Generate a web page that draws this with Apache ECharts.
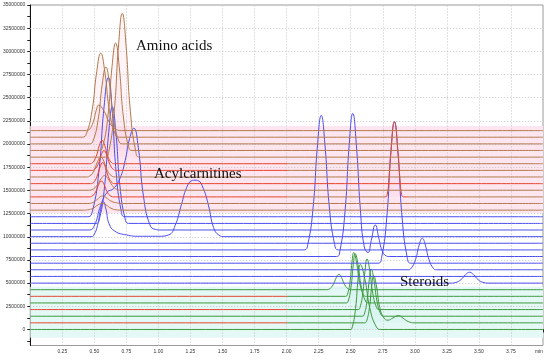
<!DOCTYPE html>
<html><head><meta charset="utf-8">
<script src="https://cdn.jsdelivr.net/npm/echarts@6/dist/echarts.min.js"></script>
<style>html,body{margin:0;padding:0;background:#fff}#c{width:550px;height:360px}</style>
</head><body><div id="c"></div>
<script>
// ---- Data: retention time (min), intensity (millions of counts) ----
// Steroids (green traces, bottom group)
const steroid0 = [[0,0],[2.495,0],[2.5125,0.28],[2.5375,2.24],[2.5575,5.46],[2.575,7.0],[2.61,5.46],[2.65,2.24],[2.70,0.28],[2.735,0],[4.0,0]];
const steroid1 = [[0,0.715],[2.609,0.715],[2.624,0.92],[2.646,2.34],[2.664,4.68],[2.679,5.8],[2.701,4.68],[2.727,2.34],[2.759,1.25],[2.79,1.0],[2.83,1.25],[2.872,1.5],[2.91,1.2],[2.95,0.85],[3.0,0.715],[4.0,0.715]];
const steroid2 = [[0,1.43],[2.59,1.43],[2.605,1.63],[2.627,3.05],[2.645,5.38],[2.66,6.5],[2.681,5.38],[2.705,3.05],[2.735,1.63],[2.756,1.43],[4.0,1.43]];
const steroid3 = [[0,2.145],[2.557,2.145],[2.572,2.36],[2.594,3.89],[2.612,6.4],[2.627,7.6],[2.648,6.4],[2.672,3.89],[2.702,2.36],[2.723,2.145],[4.0,2.145]];
const steroid4 = [[0,2.86],[2.465,2.86],[2.48,3.07],[2.502,4.55],[2.52,6.99],[2.535,8.15],[2.557,6.99],[2.583,4.55],[2.615,3.07],[2.637,2.86],[4.0,2.86]];
const steroid5 = [[0,3.575],[2.46,3.575],[2.474,3.76],[2.494,5.09],[2.51,7.26],[2.524,8.3],[2.545,7.26],[2.569,5.09],[2.599,3.76],[2.62,3.575],[4.0,3.575]];
const steroid6 = [[0,4.29],[2.312,4.29],[2.333,4.36],[2.363,4.82],[2.387,5.58],[2.408,5.95],[2.429,5.58],[2.453,4.82],[2.483,4.36],[2.504,4.29],[4.0,4.29]];
// Acylcarnitines (blue traces, middle group)
const acyl7  = [[0,5.0],[3.283,5.0],[3.3145,5.05],[3.3595,5.37],[3.3955,5.91],[3.427,6.17],[3.4585,5.91],[3.4945,5.37],[3.5395,5.05],[3.571,5.0],[4.0,5.0]];
const acyl8  = [[0,5.72],[4.0,5.72]];
const acyl9  = [[0,6.44],[2.946,6.44],[2.9705,6.58],[3.0055,7.53],[3.0335,9.09],[3.058,9.84],[3.0825,9.09],[3.1105,7.53],[3.1455,6.58],[3.17,6.44],[4.0,6.44]];
const acyl10 = [[0,7.15],[2.713,7.15],[2.741,7.76],[2.781,12.03],[2.813,19.05],[2.841,22.41],[2.869,19.05],[2.901,12.03],[2.941,7.76],[2.969,7.15],[4.0,7.15]];
const acyl11 = [[0,7.87],[2.388,7.87],[2.416,8.49],[2.456,12.81],[2.488,19.9],[2.516,23.3],[2.544,19.9],[2.576,12.81],[2.606,8.9],[2.635,8.3],[2.66,9.6],[2.692,11.27],[2.72,9.8],[2.745,8.5],[2.775,7.95],[2.8,7.87],[4.0,7.87]];
const acyl12 = [[0,8.58],[2.136,8.58],[2.165,9.16],[2.207,13.23],[2.241,19.91],[2.27,23.1],[2.299,19.91],[2.333,13.23],[2.375,9.16],[2.404,8.58],[4.0,8.58]];
const acyl13 = [[0,9.3],[4.0,9.3]];
const acyl14 = [[0,10.01],[0.474,10.01],[0.495,10.16],[0.525,11.22],[0.549,12.95],[0.57,13.78],[0.591,12.95],[0.615,11.4],[0.66,10.6],[0.75,10.2],[0.85,10.05],[1.0,10.05],[1.08,10.2],[1.13,11.2],[1.18,13.5],[1.22,15.3],[1.26,16.05],[1.285,16.1],[1.31,16.05],[1.35,15.2],[1.39,13.4],[1.43,11.0],[1.47,10.2],[1.52,10.01],[4.0,10.01]];
const acyl15 = [[0,10.73],[0.46,10.73],[0.5,11.2],[0.55,13.4],[0.6,14.8],[0.65,15.2],[0.7,16.3],[0.74,18.2],[0.775,20.6],[0.808,21.7],[0.843,19.6],[0.883,14.4],[0.933,11.3],[0.975,10.8],[1.02,10.73],[4.0,10.73]];
const acyl16 = [[0,11.44],[0.512,11.44],[0.54,11.94],[0.58,15.46],[0.612,21.24],[0.64,24.0],[0.668,21.24],[0.70,15.46],[0.74,11.94],[0.768,11.44],[4.0,11.44]];
const acyl17 = [[0,12.16],[0.45,12.16],[0.485,12.76],[0.535,16.97],[0.575,23.89],[0.61,27.2],[0.638,23.89],[0.67,16.97],[0.71,12.76],[0.738,12.16],[4.0,12.16]];
// Amino acids (brown / red traces, top group)
const amino18 = [[0,12.87],[0.416,12.87],[0.4475,12.9],[0.4925,13.1],[0.5285,13.44],[0.56,13.6],[0.5915,13.44],[0.6275,13.1],[0.6725,12.9],[0.704,12.87],[4.0,12.87]];
const amino19 = [[0,13.59],[0.45,13.59],[0.48,13.65],[0.52,14.0],[0.545,14.3],[0.565,14.4],[0.59,14.25],[0.63,13.85],[0.68,13.65],[0.72,13.59],[4.0,13.59]];
const amino20 = [[0,14.3],[0.459,14.3],[0.48,14.37],[0.51,14.84],[0.534,15.63],[0.555,16.0],[0.576,15.63],[0.6,14.84],[0.63,14.37],[0.651,14.3],[2.77,14.3],[2.785,14.6],[2.80,16.6],[2.813,19.05],[2.841,22.41],[2.869,19.05],[2.882,16.6],[2.897,14.6],[2.912,14.3],[4.0,14.3]];
const amino21 = [[0,15.02],[0.452,15.02],[0.48,15.08],[0.52,15.53],[0.552,16.25],[0.58,16.6],[0.608,16.25],[0.64,15.53],[0.68,15.08],[0.708,15.02],[4.0,15.02]];
const amino22 = [[0,15.73],[0.469,15.73],[0.49,15.82],[0.52,16.46],[0.544,17.5],[0.565,18.0],[0.586,17.5],[0.61,16.46],[0.64,15.82],[0.661,15.73],[4.0,15.73]];
const amino23 = [[0,16.45],[0.438,16.45],[0.4625,16.54],[0.4975,17.14],[0.5255,18.13],[0.55,18.6],[0.5745,18.13],[0.6025,17.14],[0.6375,16.54],[0.662,16.45],[4.0,16.45]];
const amino24 = [[0,17.16],[0.479,17.16],[0.5,17.25],[0.53,17.84],[0.554,18.83],[0.575,19.3],[0.596,18.83],[0.62,17.84],[0.65,17.25],[0.671,17.16],[4.0,17.16]];
const amino25 = [[0,17.88],[0.464,17.88],[0.485,17.98],[0.515,18.69],[0.539,19.85],[0.56,20.4],[0.581,19.85],[0.605,18.69],[0.635,17.98],[0.656,17.88],[4.0,17.88]];
const amino26 = [[0,18.59],[0.584,18.59],[0.613,19.21],[0.655,23.55],[0.689,30.69],[0.718,34.1],[0.747,30.69],[0.781,23.55],[0.823,19.21],[0.852,18.59],[4.0,18.59]];
const amino27 = [[0,19.31],[0.538,19.31],[0.566,19.77],[0.606,23.02],[0.638,28.35],[0.666,30.9],[0.694,28.35],[0.726,23.02],[0.766,19.77],[0.794,19.31],[4.0,19.31]];
const amino28 = [[0,20.02],[0.462,20.02],[0.49,20.35],[0.53,22.67],[0.562,26.48],[0.59,28.3],[0.618,26.48],[0.65,22.67],[0.69,20.35],[0.718,20.02],[4.0,20.02]];
const amino29 = [[0,20.74],[0.406,20.74],[0.4375,21.1],[0.4825,23.64],[0.5185,27.81],[0.55,29.8],[0.5815,27.81],[0.6175,23.64],[0.6625,21.1],[0.694,20.74],[4.0,20.74]];
const amino30 = [[0,21.45],[0.439,21.45],[0.46,21.56],[0.49,22.33],[0.514,23.6],[0.535,24.2],[0.574,23.6],[0.618,22.33],[0.673,21.56],[0.711,21.45],[4.0,21.45]];

// Axis ticks (millions) and time ticks
const yLabelValues = [0,2.5,5,7.5,10,12.5,15,17.5,20,22.5,25,27.5,30,32.5,35];
const yTickValues = [-1.25,0,1.25,2.5,3.75,5,6.25,7.5,8.75,10,11.25,12.5,13.75,15,16.25,17.5,18.75,20,21.25,22.5,23.75,25,26.25,27.5,28.75,30,31.25,32.5,33.75,35];
const xGridValues = [0.25,0.5,0.75,1,1.25,1.5,1.75,2,2.25,2.5,2.75,3,3.25,3.5,3.75];
// Group annotations
const groupLabels = ['Amino acids','Acylcarnitines','Steroids'];

// ---- Styling ----
const BROWN = '#b27a4c', RED = '#e5452b', BLUE = '#4b4cf0', GREEN = '#3d983d';
const PINK_FILL = 'rgba(250,200,220,0.28)', CYAN_FILL = 'rgba(205,242,238,0.3)';
// colour switch along the time axis (trace spans 0..4 min, so offset = t / 4)
const split = (a, b) => ({ type: 'linear', x: 0, y: 0, x2: 1, y2: 0, global: false,
  colorStops: [{ offset: 0, color: a }, { offset: 0.5, color: a }, { offset: 0.5, color: b }, { offset: 1, color: b }] });
const RED_GREEN = split(RED, GREEN);
const RED_BROWN = split(RED, BROWN);
const RED_BROWN_PEAK = { type: 'linear', x: 0, y: 0, x2: 1, y2: 0, global: false,
  colorStops: [{ offset: 0, color: RED }, { offset: 0.5, color: RED }, { offset: 0.5, color: BROWN },
    { offset: 0.688, color: BROWN }, { offset: 0.688, color: RED }, { offset: 0.732, color: RED },
    { offset: 0.732, color: BROWN }, { offset: 1, color: BROWN }] };

const traces = [
  [steroid0, GREEN, CYAN_FILL], [steroid1, RED_GREEN, CYAN_FILL], [steroid2, GREEN, CYAN_FILL],
  [steroid3, RED_GREEN, CYAN_FILL], [steroid4, GREEN, CYAN_FILL], [steroid5, RED_GREEN, CYAN_FILL],
  [steroid6, GREEN, CYAN_FILL],
  [acyl7, BLUE], [acyl8, BLUE], [acyl9, BLUE], [acyl10, BLUE], [acyl11, BLUE], [acyl12, BLUE],
  [acyl13, BLUE], [acyl14, BLUE], [acyl15, BLUE], [acyl16, BLUE], [acyl17, BLUE],
  [amino18, BROWN, PINK_FILL], [amino19, BROWN, PINK_FILL], [amino20, RED_BROWN_PEAK, PINK_FILL],
  [amino21, BROWN, PINK_FILL], [amino22, RED, PINK_FILL], [amino23, BROWN, PINK_FILL],
  [amino24, RED_BROWN, PINK_FILL], [amino25, RED_BROWN, PINK_FILL], [amino26, BROWN, PINK_FILL],
  [amino27, BROWN, PINK_FILL], [amino28, BROWN, PINK_FILL], [amino29, BROWN, PINK_FILL],
  [amino30, BROWN, PINK_FILL]
];

const series = traces.map(([data, color, fill]) => {
  const s = {
    type: 'line', data, showSymbol: false, symbol: 'none', smooth: 0.5,
    silent: true, animation: false, z: 2,
    lineStyle: { width: 1, color }, itemStyle: { color: typeof color === 'string' ? color : BROWN }
  };
  if (fill) s.areaStyle = { origin: data[0][1], color: fill };
  return s;
});

// background bands and dotted grid lines (on an extra invisible series)
series.unshift({
  type: 'line', data: [[0, -1], [4, -1]], silent: true, animation: false, showSymbol: false, symbol: 'none',
  lineStyle: { width: 0, opacity: 0 }, z: 1,
  markArea: {
    silent: true, z: 0.5, itemStyle: { opacity: 1 },
    data: [
      [{ yAxis: 21.95, itemStyle: { color: '#fde6ef' } }, { yAxis: 12.55 }],
      [{ yAxis: 4.6, itemStyle: { color: '#e4f8f5' } }, { yAxis: -0.9 }]
    ]
  },
  markLine: {
    silent: true, z: 0.8, symbol: ['none', 'none'], label: { show: false },
    lineStyle: { color: '#c4c4c4', type: [1, 2], width: 1 },
    data: yLabelValues.slice(0, -1).map(v => ({ yAxis: v })).concat(xGridValues.map(v => ({ xAxis: v })))
  }
});

const option = {
  animation: false,
  backgroundColor: '#fff',
  grid: { left: 30, right: 7, top: 5, bottom: 14.5, show: true, borderColor: '#9a9a9a', borderWidth: 1, backgroundColor: 'transparent' },
  xAxis: {
    type: 'value', min: 0, max: 4.0, interval: 0.25,
    axisLine: { show: true, lineStyle: { color: '#111', width: 1 } },
    axisTick: { show: true, length: 3, lineStyle: { color: '#222' } },
    minorTick: { show: true, splitNumber: 5, length: 2, lineStyle: { color: '#444' } },
    axisLabel: { fontSize: 5, color: '#333', margin: 3.5, fontFamily: 'Liberation Sans',
      showMaxLabel: true, alignMaxLabel: 'right',
      formatter: v => v === 0 ? '' : (v === 4 ? 'min' : v.toFixed(2)) },
    splitLine: { show: false }
  },
  yAxis: {
    type: 'value', min: -1.73, max: 35,
    axisLine: { show: true, lineStyle: { color: '#111', width: 1 } },
    axisTick: { show: true, length: 3, customValues: yTickValues, lineStyle: { color: '#222' } },
    axisLabel: { fontSize: 5, color: '#333', margin: 5, customValues: yLabelValues, fontFamily: 'Liberation Sans',
      formatter: v => String(Math.round(v * 1e6)) },
    splitLine: { show: false }
  },
  graphic: [
    { type: 'text', x: 136, y: 46, z: 100, style: { text: groupLabels[0], font: '15px "Liberation Serif"', fill: '#111', verticalAlign: 'middle' } },
    { type: 'text', x: 154, y: 174, z: 100, style: { text: groupLabels[1], font: '15px "Liberation Serif"', fill: '#111', verticalAlign: 'middle' } },
    { type: 'text', x: 400, y: 282, z: 100, style: { text: groupLabels[2], font: '15px "Liberation Serif"', fill: '#111', verticalAlign: 'middle' } }
  ],
  series
};

const chart = echarts.init(document.getElementById('c'), null, { renderer: 'canvas' });
chart.setOption(option);
</script></body></html>
